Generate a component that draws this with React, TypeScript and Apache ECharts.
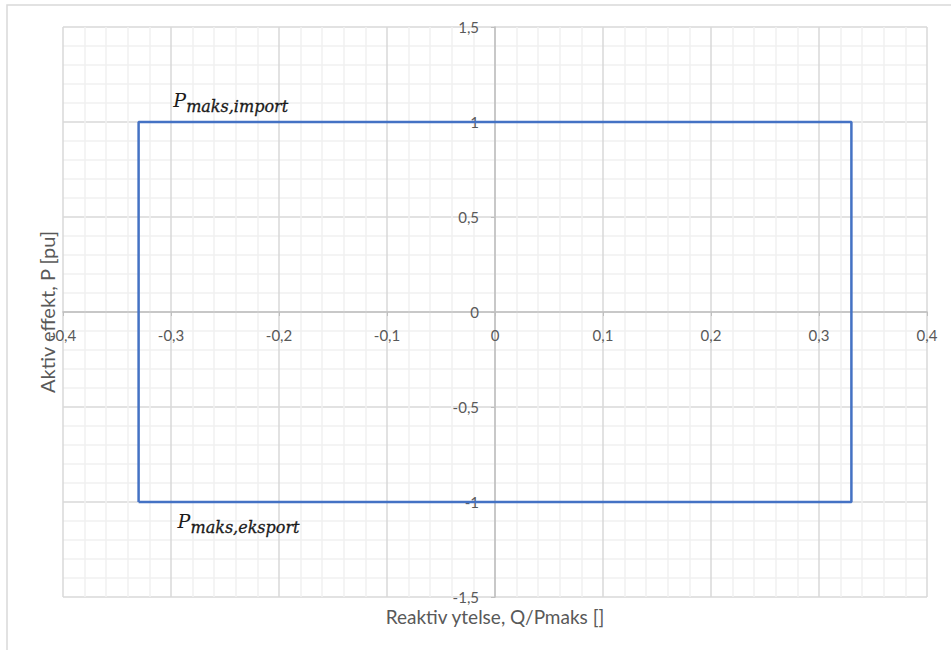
import React, { useEffect, useRef } from "react";
import * as echarts from "echarts";

// Axis ranges and steps
const xMin = -0.4;
const xMax = 0.4;
const xStep = 0.1;
const yMin = -1.5;
const yMax = 1.5;
const yStep = 0.5;

// Operating envelope (Q/Pmaks, P)
const rectQ = [-0.33, -0.33, 0.33, 0.33, -0.33];
const rectP = [-1, 1, 1, -1, -1];

// Annotation labels
const labelMain = ["P", "P"];
const labelSub = ["maks,import", "maks,eksport"];
const labelQ = [-0.298, -0.294];
const labelP = [1.118, -1.099];

const xTitle = "Reaktiv ytelse, Q/Pmaks []";
const yTitle = "Aktiv effekt, P [pu]";

const fmt = (v: number) => {
  if (Math.abs(v) < 1e-9) return "0";
  return String(parseFloat(v.toFixed(2))).replace(".", ",");
};

const FONT = "Lato, 'Open Sans', sans-serif";
const TXT = "#595959";

const W = 951;
const H = 650;
const G = { left: 63, right: 24, top: 27, bottom: 53 };

export default function App() {
  const ref = useRef<HTMLDivElement>(null);
  useEffect(() => {
    if (!ref.current) return;
    const chart = echarts.init(ref.current, null, { renderer: "svg" });
    const data = rectQ.map((q, i) => [q, rectP[i]]);
    const gw = W - G.left - G.right;
    const gh = H - G.top - G.bottom;
    // axes cross at the origin, as in the original
    const xOffset = -gh * (0 - yMin) / (yMax - yMin);
    const yOffset = -gw * (0 - xMin) / (xMax - xMin);
    chart.setOption({
      animation: false,
      backgroundColor: "#ffffff",
      grid: { ...G, containLabel: false },
      xAxis: {
        type: "value",
        min: xMin,
        max: xMax,
        interval: xStep,
        offset: xOffset,
        axisLine: { show: true, onZero: false, lineStyle: { color: "#bfbfbf", width: 1.5 } },
        axisTick: { show: true, length: 4, lineStyle: { color: "#bfbfbf" } },
        axisLabel: {
          formatter: fmt,
          color: TXT,
          fontFamily: FONT,
          fontSize: 15,
          margin: 15,
          showMinLabel: true,
          showMaxLabel: true,
        },
        splitLine: { show: true, lineStyle: { color: "#d9d9d9", width: 1.5 } },
        minorTick: { show: false, splitNumber: 5 },
        minorSplitLine: { show: true, lineStyle: { color: "#f0f0f0", width: 1.5 } },
      },
      yAxis: {
        type: "value",
        min: yMin,
        max: yMax,
        interval: yStep,
        offset: yOffset,
        axisLine: { show: true, onZero: false, lineStyle: { color: "#bfbfbf", width: 1.5 } },
        axisTick: { show: true, length: 4, lineStyle: { color: "#bfbfbf" } },
        axisLabel: {
          formatter: fmt,
          color: TXT,
          fontFamily: FONT,
          fontSize: 15,
          margin: 16,
          showMinLabel: true,
          showMaxLabel: true,
        },
        splitLine: { show: true, lineStyle: { color: "#d9d9d9", width: 1.5 } },
        minorTick: { show: false, splitNumber: 5 },
        minorSplitLine: { show: true, lineStyle: { color: "#f0f0f0", width: 1.5 } },
      },
      series: [
        {
          type: "line",
          data,
          showSymbol: false,
          symbol: "none",
          lineStyle: { color: "#4472C4", width: 2.5 },
          z: 5,
        },
      ],
    });

    const labelEls: any[] = [];
    labelMain.forEach((m, i) => {
      const pt = chart.convertToPixel({ gridIndex: 0 }, [labelQ[i], labelP[i]]) as number[];
      labelEls.push({
        type: "group",
        x: pt[0],
        y: pt[1],
        children: [
          {
            type: "text",
            x: 0,
            y: 0,
            style: {
              text: m,
              font: "italic 19px 'DejaVu Serif', serif",
              fill: "#1a1a1a",
              align: "left",
              verticalAlign: "middle",
            },
          },
          {
            type: "text",
            x: 13,
            y: 6.5,
            style: {
              text: labelSub[i],
              font: "italic 16px 'DejaVu Serif', serif",
              fill: "#1a1a1a",
              stroke: "#1a1a1a",
              lineWidth: 0.3,
              align: "left",
              verticalAlign: "middle",
            },
          },
        ],
      });
    });

    const zero = chart.convertToPixel({ gridIndex: 0 }, [0, 0]) as number[];
    chart.setOption({
      graphic: [
        {
          type: "rect",
          shape: { x: 7, y: 5, width: 1000, height: 700 },
          style: { fill: "none", stroke: "#d9d9d9", lineWidth: 1.5 },
          silent: true,
        },
        {
          type: "text",
          x: zero[0],
          y: 616,
          style: {
            text: xTitle,
            font: "19px " + FONT,
            fill: TXT,
            align: "center",
            verticalAlign: "middle",
          },
        },
        {
          type: "text",
          x: 47,
          y: zero[1],
          rotation: Math.PI / 2,
          style: {
            text: yTitle,
            font: "20px " + FONT,
            fill: TXT,
            align: "center",
            verticalAlign: "middle",
          },
        },
        ...labelEls,
      ],
    });

    return () => chart.dispose();
  }, []);
  return (
    <div
      ref={ref}
      style={{ position: "absolute", left: 0, top: 0, width: W, height: H }}
    />
  );
}
